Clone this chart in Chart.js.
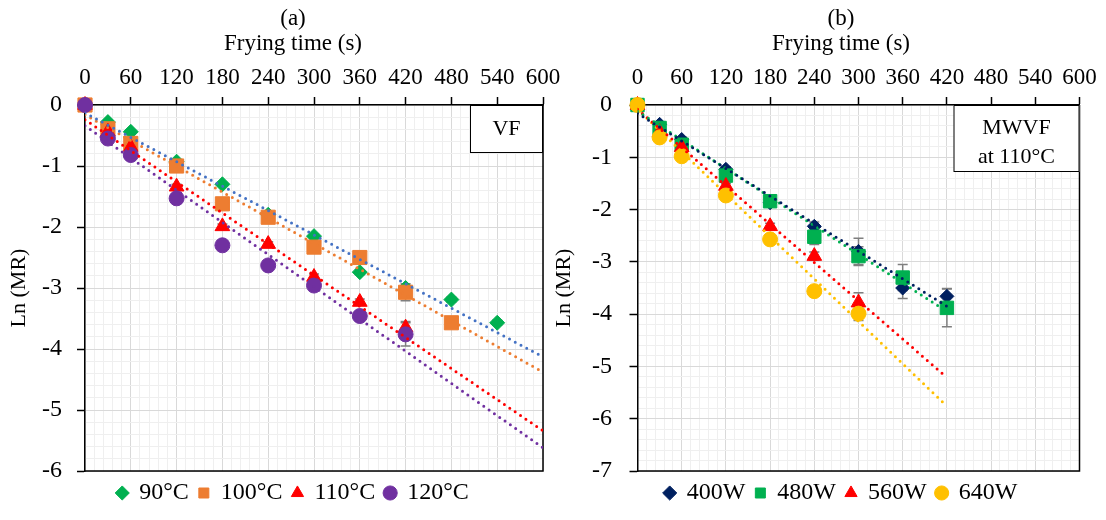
<!DOCTYPE html>
<html>
<head>
<meta charset="utf-8">
<script src="https://cdn.jsdelivr.net/npm/chart.js@4.4.1/dist/chart.umd.min.js"></script>
<style>
  html, body { margin: 0; padding: 0; background: #fff; overflow: hidden; }
  #wrap { position: relative; width: 1106px; height: 520px; overflow: hidden; }
  canvas { position: absolute; top: 0; }
  #chartA { left: 0; }
  #chartB { left: 553px; }
</style>
</head>
<body>
<div id="wrap">
  <canvas id="chartA" width="573" height="520"></canvas>
  <canvas id="chartB" width="572" height="520"></canvas>
</div>
<script>
// ---------- panel (a): VF at different oil temperatures ----------
const labelsA = ['90°C', '100°C', '110°C', '120°C'];
const tA90  = [0, 30, 60, 120, 180, 240, 300, 360, 420, 480, 540];
const tA100 = [0, 30, 60, 120, 180, 240, 300, 360, 420, 480];
const tA110 = [0, 30, 60, 120, 180, 240, 300, 360, 420];
const tA120 = [0, 30, 60, 120, 180, 240, 300, 360, 420];
const lnA90  = [0, -0.28, -0.44, -0.93, -1.30, -1.80, -2.15, -2.74, -3.00, -3.19, -3.57];
const lnA100 = [0, -0.39, -0.63, -1.00, -1.62, -1.84, -2.33, -2.50, -3.07, -3.57];
const lnA110 = [0, -0.44, -0.69, -1.34, -1.99, -2.28, -2.82, -3.23, -3.65];
const lnA120 = [0, -0.55, -0.82, -1.53, -2.30, -2.63, -2.96, -3.46, -3.76];
const errA90  = [0, 0.03, 0.03, 0.03, 0.03, 0.03, 0.03, 0.04, 0.04, 0.04, 0.04];
const errA100 = [0, 0.03, 0.03, 0.03, 0.04, 0.04, 0.04, 0.05, 0.14, 0.04];
const errA110 = [0, 0.03, 0.03, 0.04, 0.04, 0.04, 0.05, 0.05, 0.10];
const errA120 = [0, 0.03, 0.03, 0.04, 0.04, 0.05, 0.05, 0.06, 0.19];
// trendlines (at both ends)
const trendTA = [0, 600];
const trendA90  = [-0.13, -4.13];
const trendA100 = [-0.16, -4.38];
const trendA110 = [-0.24, -5.34];
const trendA120 = [-0.34, -5.62];

// ---------- panel (b): MWVF at 110°C, different powers ----------
const labelsB = ['400W', '480W', '560W', '640W'];
const tB400 = [0, 30, 60, 120, 180, 240, 300, 360, 420];
const tB480 = [0, 30, 60, 120, 180, 240, 300, 360, 420];
const tB560 = [0, 30, 60, 120, 180, 240, 300];
const tB640 = [0, 30, 60, 120, 180, 240, 300];
const lnB400 = [0, -0.37, -0.66, -1.23, -1.87, -2.32, -2.80, -3.50, -3.66];
const lnB480 = [0, -0.44, -0.76, -1.35, -1.84, -2.52, -2.89, -3.30, -3.88];
const lnB560 = [0, -0.52, -0.81, -1.55, -2.32, -2.89, -3.78];
const lnB640 = [0, -0.62, -0.98, -1.73, -2.57, -3.56, -3.99];
const errB400 = [0, 0.04, 0.05, 0.05, 0.06, 0.08, 0.25, 0.20, 0.15];
const errB480 = [0, 0.04, 0.05, 0.05, 0.06, 0.15, 0.18, 0.25, 0.36];
const errB560 = [0, 0.04, 0.04, 0.05, 0.06, 0.08, 0.19];
const errB640 = [0, 0.04, 0.04, 0.05, 0.06, 0.10, 0.13];
const trendTB = [0, 420];
const trendB400 = [-0.16, -3.85];
const trendB480 = [-0.12, -3.95];
const trendB560 = [-0.08, -5.21];
const trendB640 = [-0.08, -5.76];

const SERIF = "'Times New Roman', 'Liberation Serif', serif";
const MAJOR = '#d9d9d9';
const MINOR = '#efefef';
const isWhole = v => Math.abs(v - Math.round(v)) < 1e-6;

function pts(xs, ys) {
    return xs.map((x, i) => ({ x: x, y: ys[i] }));
}

// error bars, the right/bottom frame and the small label box
const extras = {
    id: 'extras',
    beforeDatasetsDraw(chart) {
        const { ctx, chartArea: a, scales: { y } } = chart;
        ctx.save();
        ctx.strokeStyle = '#7f7f7f';
        ctx.lineWidth = 1.5;
        chart.data.datasets.forEach((ds, i) => {
            if (!ds.errors) return;
            chart.getDatasetMeta(i).data.forEach((pt, j) => {
                const e = ds.errors[j];
                if (!e) return;
                const v = ds.data[j].y;
                const y1 = y.getPixelForValue(v + e);
                const y2 = y.getPixelForValue(v - e);
                ctx.beginPath();
                ctx.moveTo(pt.x, y1); ctx.lineTo(pt.x, y2);
                ctx.moveTo(pt.x - 5, y1); ctx.lineTo(pt.x + 5, y1);
                ctx.moveTo(pt.x - 5, y2); ctx.lineTo(pt.x + 5, y2);
                ctx.stroke();
            });
        });
        ctx.strokeStyle = '#000';
        ctx.lineWidth = 1.5;
        ctx.beginPath();
        ctx.moveTo(a.right, a.top);
        ctx.lineTo(a.right, a.bottom);
        ctx.lineTo(a.left, a.bottom);
        ctx.stroke();
        ctx.restore();
    },
    afterDatasetsDraw(chart, args, opts) {
        const { ctx, chartArea: a } = chart;
        const x0 = a.right - opts.w;
        ctx.save();
        ctx.fillStyle = '#fff';
        ctx.fillRect(x0, a.top, opts.w, opts.h);
        ctx.strokeStyle = '#000';
        ctx.lineWidth = 1;
        ctx.strokeRect(x0 + 0.5, a.top + 0.5, opts.w - 1, opts.h - 1);
        ctx.fillStyle = '#000';
        ctx.font = '22px ' + SERIF;
        ctx.textAlign = 'center';
        ctx.textBaseline = 'middle';
        opts.lines.forEach((t, i) => {
            ctx.fillText(t, x0 + opts.w / 2, a.top + opts.firstY + i * 29);
        });
        ctx.restore();
    }
};

function makePanel(id, p) {
    const ctx = document.getElementById(id).getContext('2d');
    const styles = ['rectRot', 'rect', 'triangle', 'circle'];
    const datasets = [];
    p.series.forEach((s, i) => {
        datasets.push({
            label: p.labels[i],
            data: pts(s.t, s.v),
            errors: s.err,
            pointStyle: styles[i],
            pointRadius: s.r,
            backgroundColor: s.color,
            borderColor: s.color,
            pointBorderWidth: 1,
            showLine: false,
            clip: false,
            order: 4 - i
        });
    });
    p.trends.forEach((tr, i) => {
        datasets.push({
            label: 'trend ' + p.labels[i],
            data: pts(p.trendT, tr.v),
            showLine: true,
            pointRadius: 0,
            borderColor: tr.color,
            borderWidth: 3,
            borderDash: [0, 6.5],
            borderCapStyle: 'round',
            fill: false,
            order: 0
        });
    });

    new Chart(ctx, {
        type: 'scatter',
        data: { datasets: datasets },
        plugins: [extras],
        options: {
            responsive: false,
            animation: false,
            events: [],
            layout: { padding: { left: p.padL, right: p.padR, top: 0, bottom: 5 } },
            plugins: {
                title: {
                    display: true, text: p.title, color: '#000',
                    font: { family: SERIF, size: 23, weight: 'normal', lineHeight: 1 },
                    padding: { top: 7.5, bottom: 0 }
                },
                subtitle: {
                    display: true, text: 'Frying time (s)', color: '#000',
                    font: { family: SERIF, size: 23, weight: 'normal', lineHeight: 1 },
                    padding: { top: 2, bottom: 0 }
                },
                legend: {
                    position: 'bottom',
                    labels: {
                        usePointStyle: true,
                        boxWidth: 10,
                        boxHeight: 10,
                        padding: 10,
                        color: '#000',
                        font: { family: SERIF, size: 24 },
                        filter: item => item.datasetIndex < 4,
                        sort: (a, b) => a.datasetIndex - b.datasetIndex
                    }
                },
                tooltip: { enabled: false },
                extras: p.box
            },
            scales: {
                x: {
                    type: 'linear',
                    position: 'top',
                    min: 0,
                    max: 600,
                    ticks: {
                        stepSize: 12,
                        autoSkip: false,
                        maxRotation: 0,
                        padding: 5.7,
                        color: '#000',
                        font: { family: SERIF, size: 23 },
                        callback: v => (v % 60 === 0 ? String(v) : '')
                    },
                    grid: {
                        color: c => (c.tick.value % 60 === 0 ? MAJOR : MINOR),
                        tickColor: c => (c.tick.value % 60 === 0 ? '#000' : 'rgba(0,0,0,0)'),
                        tickLength: 8,
                        tickWidth: 1.5,
                        lineWidth: 1
                    },
                    border: { color: '#000', width: 1.5 },
                    afterFit: s => { s.height = 49.5; }
                },
                y: {
                    min: p.yMin,
                    max: 0,
                    ticks: {
                        stepSize: 0.2,
                        autoSkip: false,
                        padding: p.tickPad,
                        color: '#000',
                        font: { family: SERIF, size: 24 },
                        callback: v => (isWhole(v) ? String(Math.round(v) || 0) : '')
                    },
                    grid: {
                        color: c => (isWhole(c.tick.value) ? MAJOR : MINOR),
                        tickColor: c => (isWhole(c.tick.value) ? '#000' : 'rgba(0,0,0,0)'),
                        tickLength: 8,
                        tickWidth: 1.5,
                        lineWidth: 1
                    },
                    border: { color: '#000', width: 1.5 },
                    title: {
                        display: true,
                        text: 'Ln (MR)',
                        color: '#000',
                        font: { family: SERIF, size: 22 },
                        padding: { top: p.yTitlePad, bottom: 0 }
                    },
                    afterFit: s => { s.width = p.yWidth; }
                },
                // empty spacer on the right so titles and legend sit where the original has them
                yR: {
                    position: 'right',
                    display: true,
                    grid: { display: false, drawTicks: false },
                    border: { display: false },
                    ticks: { display: false },
                    afterFit: s => { s.width = p.spacer; }
                }
            }
        }
    });
}

document.addEventListener('DOMContentLoaded', function() {
    makePanel('chartA', {
        title: '(a)',
        labels: labelsA,
        yMin: -6,
        padL: 13, padR: 0, yWidth: 72, spacer: 30, tickPad: 15, yTitlePad: -7.2,
        series: [
            { t: tA90,  v: lnA90,  err: errA90,  color: '#00b050', r: 7.5 },
            { t: tA100, v: lnA100, err: errA100, color: '#ed7d31', r: 10 },
            { t: tA110, v: lnA110, err: errA110, color: '#ff0000', r: 8.5 },
            { t: tA120, v: lnA120, err: errA120, color: '#7030a0', r: 7.5 }
        ],
        trendT: trendTA,
        trends: [
            { v: trendA90,  color: '#4472c4' },
            { v: trendA100, color: '#ed7d31' },
            { v: trendA110, color: '#ff0000' },
            { v: trendA120, color: '#7030a0' }
        ],
        box: { lines: ['VF'], w: 73, h: 48, firstY: 24 }
    });

    makePanel('chartB', {
        title: '(b)',
        labels: labelsB,
        yMin: -7,
        padL: 4.5, padR: 0.5, yWidth: 80, spacer: 45, tickPad: 17.5, yTitlePad: -6.7,
        series: [
            { t: tB400, v: lnB400, err: errB400, color: '#002060', r: 7 },
            { t: tB480, v: lnB480, err: errB480, color: '#00b050', r: 9.5 },
            { t: tB560, v: lnB560, err: errB560, color: '#ff0000', r: 8.5 },
            { t: tB640, v: lnB640, err: errB640, color: '#ffc000', r: 7.5 }
        ],
        trendT: trendTB,
        trends: [
            { v: trendB400, color: '#002060' },
            { v: trendB480, color: '#00b050' },
            { v: trendB560, color: '#ff0000' },
            { v: trendB640, color: '#ffc000' }
        ],
        box: { lines: ['MWVF', 'at 110°C'], w: 126, h: 67, firstY: 23 }
    });
});
</script>
</body>
</html>
